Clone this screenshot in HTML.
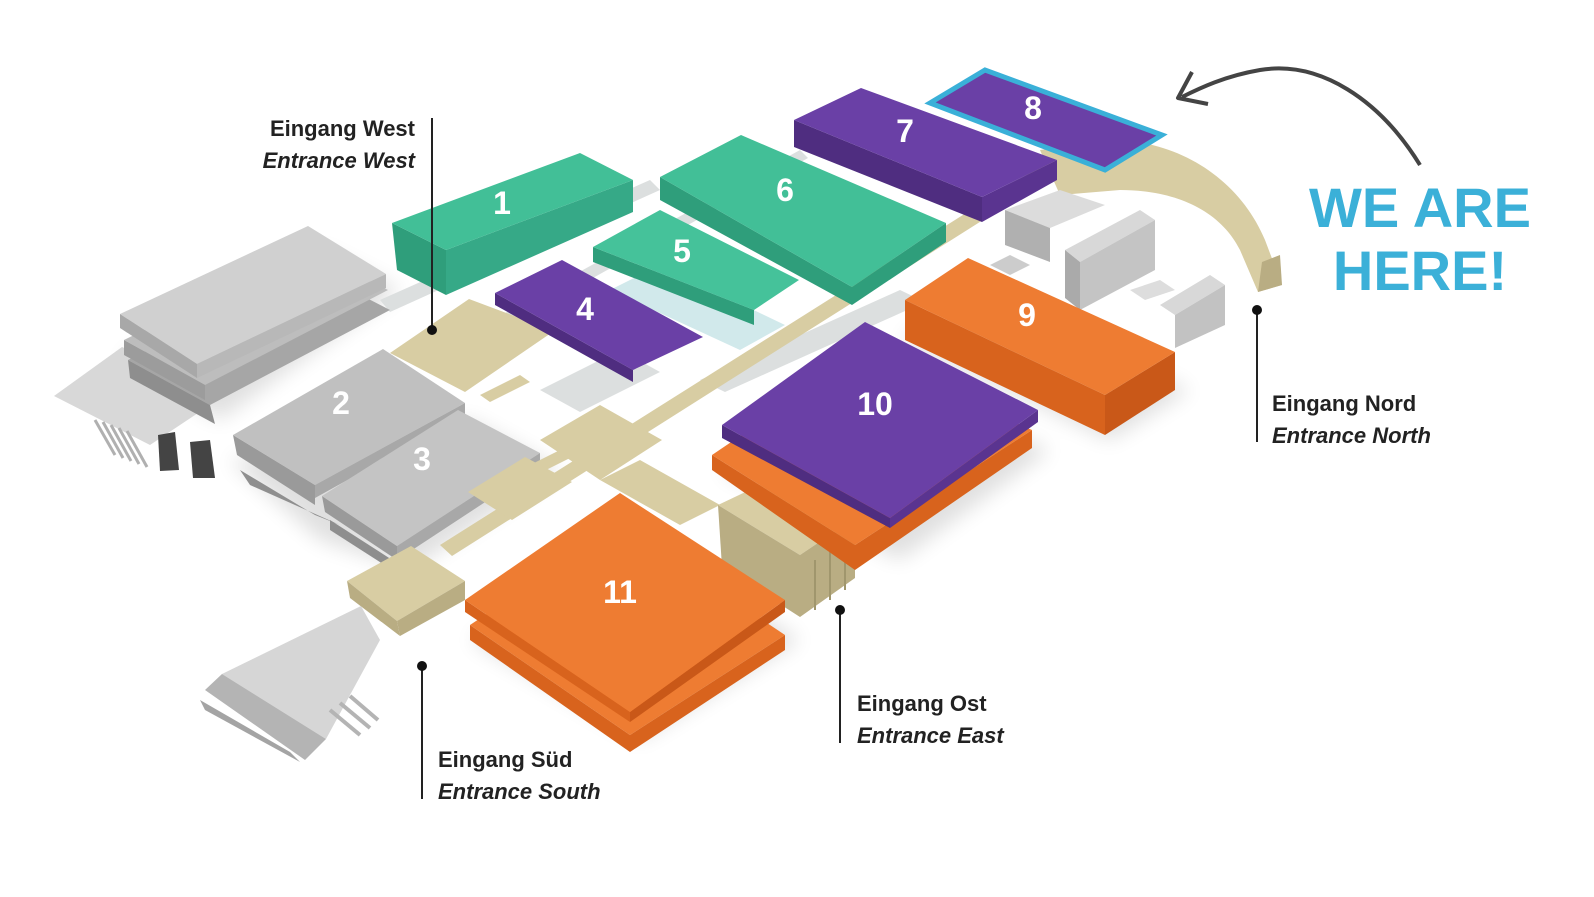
<!DOCTYPE html>
<html><head><meta charset="utf-8"><style>
html,body{margin:0;padding:0;background:#fff;}
svg{display:block}
text{font-family:"Liberation Sans","DejaVu Sans",sans-serif}
</style></head><body>
<svg width="1594" height="897" viewBox="0 0 1594 897" xmlns="http://www.w3.org/2000/svg">
<defs>
<filter id="sh" x="-20%" y="-20%" width="140%" height="140%"><feGaussianBlur stdDeviation="10"/></filter>
</defs>
<g opacity="0.12" filter="url(#sh)" fill="#000">
<polygon points="120,360 320,250 400,290 220,420"/>
<polygon points="230,460 470,420 560,470 410,570 320,540"/>
<polygon points="470,640 640,740 800,640 640,540"/>
<polygon points="720,470 900,560 1050,450 880,380"/>
<polygon points="900,340 1110,440 1190,390 980,300"/>
</g>
<g fill="#dcdfdf">
<polygon points="380,300 650,180 660,190 390,312"/>
<polygon points="420,360 800,150 808,158 428,370"/>
<polygon points="540,390 620,350 660,372 580,412"/>
<polygon points="700,380 900,290 925,302 725,392"/>
<polygon points="760,420 790,405 820,420 790,435"/>
</g>
<polygon points="610,290 740,350 785,325 660,265" fill="#c6e3e6" opacity="0.8"/>
<!-- left grey stairs -->
<polygon points="54,396 122,347 225,395 150,445" fill="#d8d8d8"/>
<g stroke="#b0b0b0" stroke-width="3">
<line x1="95" y1="420" x2="115" y2="455"/><line x1="103" y1="422" x2="123" y2="458"/><line x1="111" y1="425" x2="131" y2="461"/><line x1="119" y1="428" x2="139" y2="464"/><line x1="127" y1="431" x2="147" y2="467"/>
</g>
<polygon points="158,435 175,432 179,470 160,471" fill="#444"/>
<polygon points="190,442 210,440 215,478 193,478" fill="#444"/>
<!-- grey stacks -->
<polygon points="128,360 308,268 390,310 210,405" fill="#a6a6a6"/>
<polygon points="128,360 210,405 215,424 130,378" fill="#8e8e8e"/>
<polygon points="124,340 308,250 388,290 205,385" fill="#bdbdbd"/>
<polygon points="124,340 205,385 205,400 124,355" fill="#9c9c9c"/>
<polygon points="120,314 308,226 386,274 197,364" fill="#d0d0d0"/>
<polygon points="120,314 197,364 197,378 120,328" fill="#a8a8a8"/>
<polygon points="197,364 386,274 386,288 197,378" fill="#b8b8b8"/>
<!-- Hall 2 & 3 -->
<polygon points="240,470 315,515 340,525 250,485" fill="#8f8f8f"/>
<polygon points="233,435 315,485 315,505 237,455" fill="#9a9a9a"/>
<polygon points="233,435 383,349 465,403 315,485" fill="#c0c0c0"/>
<polygon points="315,485 465,403 465,415 315,498" fill="#a8a8a8"/>
<polygon points="322,496 397,546 397,560 325,512" fill="#9a9a9a"/>
<polygon points="330,520 400,565 400,575 330,530" fill="#8e8e8e"/>
<polygon points="322,496 458,410 540,453 397,546" fill="#c4c4c4"/>
<polygon points="397,546 540,453 540,466 397,560" fill="#a8a8a8"/>
<!-- walkways beige -->
<g fill="#d8cda3">
<polygon points="390,353 469,299 554,331 465,392"/>
<polygon points="440,545 1050,160 1062,170 452,556"/>
<polygon points="480,395 520,375 530,382 490,402"/>
<polygon points="540,440 600,405 662,440 600,480"/>
<polygon points="520,470 560,450 570,458 530,478"/>
<polygon points="468,492 525,457 572,482 512,520"/>
<polygon points="600,480 640,460 720,505 680,525"/>
<polygon points="347,581 411,546 465,581 397,621"/>
<polygon points="718,505 775,478 855,518 800,555"/>
<path d="M1040,150 L1110,140 C1180,140 1240,180 1265,240 L1282,285 L1258,292 L1240,250 C1220,210 1175,190 1120,190 L1060,195 Z"/>
</g>
<g fill="#b9ad83">
<polygon points="397,621 465,581 465,600 400,636"/>
<polygon points="347,581 397,621 400,636 350,598"/>
<polygon points="718,505 800,555 800,617 722,567"/>
<polygon points="800,555 855,518 855,578 800,617"/>
<polygon points="1258,292 1282,285 1280,255 1262,262"/>
</g>
<g stroke="#a0966d" stroke-width="2" fill="none">
<line x1="815" y1="560" x2="815" y2="610"/><line x1="830" y1="550" x2="830" y2="600"/><line x1="845" y1="540" x2="845" y2="590"/>
</g>
<!-- south grey stairs -->
<polygon points="222,674 361,606 380,640 326,739" fill="#d6d6d6"/>
<polygon points="205,690 222,674 326,739 305,760" fill="#b4b4b4"/>
<polygon points="200,700 290,752 300,762 205,710" fill="#a4a4a4"/>
<g stroke="#b4b4b4" stroke-width="4"><line x1="330" y1="710" x2="360" y2="735"/><line x1="340" y1="703" x2="370" y2="728"/><line x1="350" y1="696" x2="378" y2="720"/></g>
<!-- small grey boxes north -->
<polygon points="1005,210 1060,190 1105,205 1050,228" fill="#dcdcdc"/>
<polygon points="1005,210 1050,228 1050,262 1005,245" fill="#b0b0b0"/>
<polygon points="1065,250 1140,210 1155,220 1080,262" fill="#d8d8d8"/>
<polygon points="1065,250 1080,262 1080,310 1065,298" fill="#aaa"/>
<polygon points="1080,262 1155,220 1155,270 1080,310" fill="#c4c4c4"/>
<polygon points="1160,305 1210,275 1225,285 1175,315" fill="#d8d8d8"/>
<polygon points="1175,315 1225,285 1225,325 1175,348" fill="#c2c2c2"/>
<polygon points="1130,290 1160,280 1175,290 1145,300" fill="#ddd"/>
<polygon points="990,265 1010,255 1030,265 1010,275" fill="#ccc"/>
<!-- Hall 1 -->
<polygon points="392,223 446,250 446,295 397,270" fill="#2f9e7b"/>
<polygon points="446,250 633,180 633,212 446,295" fill="#36a987"/>
<polygon points="392,223 580,153 633,180 446,250" fill="#42bf97"/>
<!-- Hall 6 & 5 -->
<polygon points="660,177 852,287 852,305 660,200" fill="#2f9e7b"/>
<polygon points="660,177 741,135 946,223 852,287" fill="#42bf97"/>
<polygon points="852,287 946,223 946,242 852,305" fill="#2f9e7b"/>
<polygon points="593,247 754,310 754,325 593,262" fill="#2f9e7b"/>
<polygon points="593,247 660,210 799,280 754,310" fill="#45c29a"/>
<!-- Hall 7 -->
<polygon points="794,120 982,197 982,222 794,147" fill="#4f2d80"/>
<polygon points="982,197 1057,160 1057,180 982,222" fill="#5a3490"/>
<polygon points="794,120 861,88 1057,160 982,197" fill="#6a40a6"/>
<!-- Hall 8 -->
<polygon points="930,103 985,70 1162,135 1105,170" fill="#6a40a6" stroke="#3ab0d8" stroke-width="5"/>
<!-- Hall 4 -->
<polygon points="495,293 633,370 633,382 495,305" fill="#4f2d80"/>
<polygon points="495,293 562,260 703,337 633,370" fill="#6a40a6"/>
<!-- Hall 9 -->
<polygon points="905,300 1105,395 1105,435 905,340" fill="#d8631d"/>
<polygon points="1105,395 1175,352 1175,390 1105,435" fill="#c95818"/>
<polygon points="905,300 968,258 1175,352 1105,395" fill="#ee7c32"/>
<!-- Hall 10 lower -->
<polygon points="712,470 855,570 1032,448 1032,430 855,545 712,455" fill="#d8631d"/>
<polygon points="712,455 860,355 1032,430 855,545" fill="#ee7c32"/>
<!-- Hall 10 -->
<polygon points="722,425 890,518 890,528 722,438" fill="#4f2d80"/>
<polygon points="890,518 1038,410 1038,422 890,528" fill="#5a3490"/>
<polygon points="722,425 865,322 1038,410 890,518" fill="#6a40a6"/>
<!-- Hall 11 lower -->
<polygon points="470,640 630,752 785,650 785,635 630,735 470,625" fill="#d8631d"/>
<polygon points="470,625 620,525 785,635 630,735" fill="#ee7c32"/>
<!-- Hall 11 -->
<polygon points="465,600 630,712 630,722 465,612" fill="#d8631d"/>
<polygon points="630,712 785,600 785,612 630,722" fill="#c95818"/>
<polygon points="465,600 620,493 785,600 630,712" fill="#ee7c32"/>
<g fill="#fff" font-weight="bold" font-size="32" text-anchor="middle">
<text x="502" y="214">1</text>
<text x="341" y="414">2</text>
<text x="422" y="470">3</text>
<text x="585" y="320">4</text>
<text x="682" y="262">5</text>
<text x="785" y="201">6</text>
<text x="905" y="142">7</text>
<text x="1033" y="119">8</text>
<text x="1027" y="326">9</text>
<text x="875" y="415">10</text>
<text x="620" y="603">11</text>
</g>
<g stroke="#222" stroke-width="2">
<line x1="432" y1="118" x2="432" y2="330"/>
<line x1="1257" y1="310" x2="1257" y2="442"/>
<line x1="840" y1="610" x2="840" y2="743"/>
<line x1="422" y1="666" x2="422" y2="799"/>
</g>
<g fill="#111"><circle cx="432" cy="330" r="5"/><circle cx="1257" cy="310" r="5"/><circle cx="840" cy="610" r="5"/><circle cx="422" cy="666" r="5"/></g>
<g fill="#222" font-size="22" font-weight="bold">
<text x="415" y="136" text-anchor="end">Eingang West</text>
<text x="415" y="168" text-anchor="end" font-style="italic">Entrance West</text>
<text x="1272" y="411">Eingang Nord</text>
<text x="1272" y="443" font-style="italic">Entrance North</text>
<text x="857" y="711">Eingang Ost</text>
<text x="857" y="743" font-style="italic">Entrance East</text>
<text x="438" y="767">Eingang Süd</text>
<text x="438" y="799" font-style="italic">Entrance South</text>
</g>
<g fill="#3bb0d8" font-size="56" font-weight="bold" text-anchor="middle">
<text x="1420" y="227">WE ARE</text>
<text x="1420" y="290">HERE!</text>
</g>
<path d="M1420,165 C1380,100 1320,60 1260,70 C1225,76 1200,88 1182,97" fill="none" stroke="#444" stroke-width="4"/>
<path d="M1192,72 L1178,98 L1208,104" fill="none" stroke="#444" stroke-width="4" stroke-linejoin="round"/>
</svg>
</body></html>
